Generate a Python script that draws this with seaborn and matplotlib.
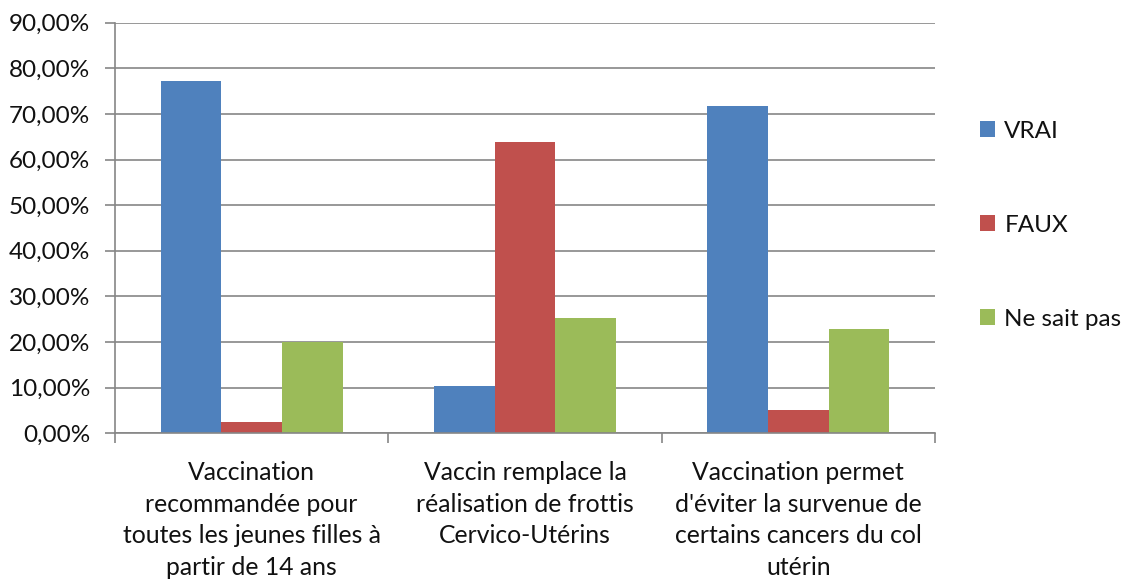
import pandas as pd
import matplotlib.pyplot as plt
import seaborn as sns
from matplotlib.ticker import FuncFormatter, FixedLocator

# Values (percent)
categories = [
    "Vaccination\nrecommandée pour\ntoutes les jeunes filles à\npartir de 14 ans",
    "Vaccin remplace la\nréalisation de frottis\nCervico-Utérins",
    "Vaccination permet\nd'éviter la survenue de\ncertains cancers du col\nutérin",
]
series = ["VRAI", "FAUX", "Ne sait pas"]
vrai = [77.2, 10.4, 71.7]
faux = [2.4, 63.9, 5.1]
ne_sait_pas = [20.1, 25.3, 22.9]
colors = ["#4F81BD", "#C0504D", "#9BBB59"]

df = pd.DataFrame({
    "Question": categories * 3,
    "Réponse": [s for s in series for _ in categories],
    "Pourcentage": vrai + faux + ne_sait_pas,
})

sns.set_style("white")
plt.rcParams["font.family"] = ["Lato", "DejaVu Sans"]

fig = plt.figure(figsize=(11.39, 5.85), dpi=100)
ax = fig.add_axes([115 / 1139, 1 - 433.3 / 585, 820 / 1139, 410.6 / 585])

sns.barplot(data=df, x="Question", y="Pourcentage", hue="Réponse",
            order=categories, hue_order=series, palette=colors,
            width=0.667, saturation=1, linewidth=0, errorbar=None, ax=ax)

ax.set_ylim(0, 90)
ax.set_xlim(-0.5, 2.5)
ax.set_yticks(range(0, 91, 10))
ax.yaxis.set_major_formatter(FuncFormatter(lambda v, p: f"{v:.2f}".replace(".", ",") + "%"))
ax.yaxis.grid(True, color="#868686", linewidth=1.2)
ax.set_axisbelow(True)

for side in ["top", "right"]:
    ax.spines[side].set_visible(False)
for side in ["left", "bottom"]:
    ax.spines[side].set_color("#868686")
    ax.spines[side].set_linewidth(1.2)

ax.tick_params(axis="y", which="major", direction="out", length=7, width=1.2,
               color="#868686", labelsize=17.5, pad=11, left=True,
               labelcolor="#111111")
ax.tick_params(axis="x", which="major", length=0, labelsize=17.8, pad=20,
               labelcolor="#111111")
ax.xaxis.set_minor_locator(FixedLocator([-0.5, 0.5, 1.5, 2.5]))
ax.tick_params(axis="x", which="minor", direction="out", length=7, width=1.2,
               color="#868686", bottom=True)
for lbl in ax.get_xticklabels():
    lbl.set_multialignment("center")
    lbl.set_linespacing(1.45)

ax.set_xlabel("")
ax.set_ylabel("")

leg = ax.legend(title=None, frameon=False, fontsize=17.5, loc="center left",
                bbox_to_anchor=(1.055, 0.507), borderaxespad=0, borderpad=0,
                handlelength=0.6, handleheight=0.6, handletextpad=0.4,
                labelspacing=3.0)
for t in leg.get_texts():
    t.set_color("#111111")

fig.savefig("out.png", dpi=100)
